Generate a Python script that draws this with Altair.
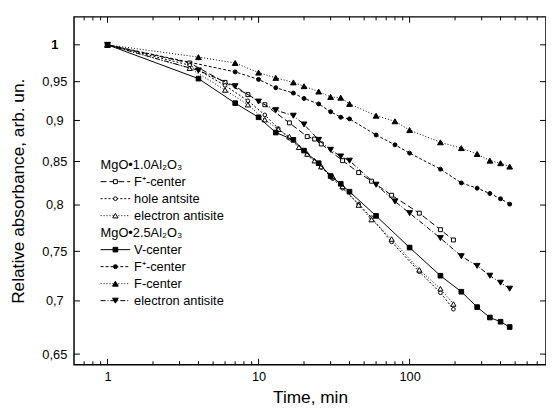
import altair as alt
import pandas as pd

# ---------------- data ----------------
# MgO*2.5Al2O3
t_f_center = [1, 4, 7, 10, 13, 17, 20, 25, 30, 35, 40, 60, 80, 100, 160, 220, 280, 340, 400, 460]
v_f_center = [1.000, 0.983, 0.975, 0.962, 0.955, 0.949, 0.944, 0.937, 0.930, 0.929, 0.921, 0.906,
              0.899, 0.888, 0.873, 0.866, 0.859, 0.851, 0.848, 0.844]

t_fplus_25 = [1, 7, 10, 13, 17, 20, 25, 30, 35, 40, 60, 80, 100, 160, 220, 280, 340, 400, 460]
v_fplus_25 = [1.000, 0.963, 0.953, 0.942, 0.935, 0.928, 0.921, 0.911, 0.904, 0.902, 0.882, 0.870,
              0.860, 0.841, 0.825, 0.819, 0.813, 0.807, 0.801]

t_eanti_25 = [1, 4, 7, 10, 13, 17, 20, 25, 30, 35, 40, 60, 80, 100, 160, 220, 280, 340, 400, 460]
v_eanti_25 = [1.000, 0.965, 0.944, 0.924, 0.913, 0.906, 0.895, 0.876, 0.864, 0.856, 0.851, 0.823,
              0.804, 0.791, 0.764, 0.745, 0.735, 0.725, 0.718, 0.712]

t_v_center = [1, 4, 7, 10, 13, 17, 20, 25, 30, 35, 40, 60, 100, 160, 220, 280, 340, 400, 460]
v_v_center = [1.000, 0.954, 0.922, 0.904, 0.885, 0.876, 0.863, 0.848, 0.833, 0.824, 0.815, 0.788,
              0.754, 0.725, 0.709, 0.694, 0.684, 0.680, 0.675]

# MgO*1.0Al2O3
t_fplus_10 = [1, 3.5, 6, 8.5, 11, 16, 21, 23.5, 26, 36, 46, 56, 76, 116, 160, 195]
v_fplus_10 = [1.000, 0.975, 0.949, 0.933, 0.920, 0.897, 0.880, 0.877, 0.871, 0.851, 0.837, 0.827,
              0.811, 0.791, 0.773, 0.762]

t_hole_10 = [1, 3.5, 6, 8.5, 11, 13.5, 16, 21, 26, 31, 36, 46, 56, 76, 116, 160, 195]
v_hole_10 = [1.000, 0.972, 0.945, 0.925, 0.907, 0.890, 0.878, 0.858, 0.843, 0.830, 0.819, 0.801,
             0.786, 0.760, 0.729, 0.708, 0.692]

t_eanti_10 = [1, 3.5, 6, 8.5, 11, 13.5, 16, 18.5, 21, 23.5, 26, 31, 36, 46, 56, 76, 116, 160, 195]
v_eanti_10 = [1.000, 0.968, 0.939, 0.920, 0.901, 0.889, 0.880, 0.867, 0.859, 0.851, 0.844, 0.832,
              0.821, 0.800, 0.784, 0.763, 0.731, 0.712, 0.697]

# axis ticks
x_major_ticks = [1, 10, 100]
x_minor_ticks = [0.7, 0.8, 0.9, 2, 3, 4, 5, 6, 7, 8, 9, 20, 30, 40, 50, 60, 70, 80, 90,
                 200, 300, 400, 500, 600, 700]
y_ticks = [0.65, 0.7, 0.75, 0.8, 0.85, 0.9, 0.95, 1.0]

group_10 = "MgO•1.0Al₂O₃"
group_25 = "MgO•2.5Al₂O₃"
labels = ["F⁺-center", "hole antsite", "electron antisite",
          "V-center", "F⁺-center", "F-center", "electron antisite"]

# ---------------- styling ----------------
W, H = 479, 353
FONT = "Liberation Sans"
xscale = alt.Scale(type="log", domain=[0.6, 800], nice=False)
yscale = alt.Scale(type="log", domain=[0.6405, 1.0397], nice=False)

x_axis = alt.Axis(values=x_major_ticks, format="~g", ticks=False, tickSize=0, domain=False, grid=False,
                  labelFont=FONT, labelFontSize=13, labelColor="black", labelPadding=6,
                  title="Time, min", titleFont=FONT, titleFontSize=17.5, titleFontWeight="normal",
                  titleColor="black", titleX=W / 2, titleY=33, titleBaseline="middle")
y_axis = alt.Axis(values=y_ticks, format=".2~f", labelExpr="replace(datum.label, '.', ',')",
                  ticks=False, tickSize=0, domain=False, grid=False,
                  labelFont=FONT, labelFontSize=13, labelColor="black", labelPadding=20,
                  labelAlign="center",
                  labelFontWeight={"condition": {"test": "datum.value == 1", "value": "bold"},
                                   "value": "normal"},
                  title="Relative absorbance, arb. un.", titleFont=FONT, titleFontSize=17.5,
                  titleFontWeight="normal", titleColor="black", titleX=-56, titleY=H / 2,
                  titleBaseline="middle", titleAngle=-90)

X = alt.X("t:Q", scale=xscale, axis=x_axis)
Y = alt.Y("v:Q", scale=yscale, axis=y_axis)

series = [
    dict(t=t_fplus_10, v=v_fplus_10, shape="square", fill="white", dash=[6, 3], size=16),
    dict(t=t_hole_10, v=v_hole_10, shape="circle", fill="white", dash=[2, 2], size=14),
    dict(t=t_eanti_10, v=v_eanti_10, shape="triangle-up", fill="white", dash=[1, 2], size=28),
    dict(t=t_v_center, v=v_v_center, shape="square", fill="black", dash=None, size=22),
    dict(t=t_fplus_25, v=v_fplus_25, shape="circle", fill="black", dash=[3, 2], size=16),
    dict(t=t_f_center, v=v_f_center, shape="triangle-up", fill="black", dash=[1, 2], size=34),
    dict(t=t_eanti_25, v=v_eanti_25, shape="triangle-down", fill="black", dash=[5, 2, 1, 2], size=34),
]

layers = []
for s in series:
    df = pd.DataFrame({"t": s["t"], "v": s["v"]})
    line_kw = dict(color="black", strokeWidth=1)
    if s["dash"]:
        line_kw["strokeDash"] = s["dash"]
    layers.append(alt.Chart(df).mark_line(**line_kw).encode(x=X, y=Y))
    layers.append(alt.Chart(df).mark_point(shape=s["shape"], filled=True, fill=s["fill"],
                                           stroke="black", strokeWidth=1, opacity=1,
                                           size=s["size"]).encode(x=X, y=Y))

# inward ticks on all four sides
xmaj = pd.DataFrame({"t": x_major_ticks})
xmin = pd.DataFrame({"t": x_minor_ticks})
yt = pd.DataFrame({"v": y_ticks})
for d, ln in ((xmaj, 6), (xmin, 3.5)):
    layers.append(alt.Chart(d).mark_rule(color="black", strokeWidth=1).encode(
        x=X, y=alt.value(H), y2=alt.value(H - ln)))
    layers.append(alt.Chart(d).mark_rule(color="black", strokeWidth=1).encode(
        x=X, y=alt.value(0), y2=alt.value(ln)))
layers.append(alt.Chart(yt).mark_rule(color="black", strokeWidth=1).encode(
    y=Y, x=alt.value(0), x2=alt.value(6)))
layers.append(alt.Chart(yt).mark_rule(color="black", strokeWidth=1).encode(
    y=Y, x=alt.value(W), x2=alt.value(W - 6)))

# custom legend
one = pd.DataFrame({"k": [0]})
LX0, LX1, LXM, LTX = 27, 57, 42, 61
step = 17.25
ypos = [150 + step * i for i in range(9)]
rows = [("h", group_10)] + [("s", i) for i in range(3)] + [("h", group_25)] + [("s", i) for i in range(3, 7)]
for (kind, item), py in zip(rows, ypos):
    if kind == "h":
        layers.append(alt.Chart(one).mark_text(font=FONT, fontSize=13, align="left", baseline="middle",
                                               color="black").encode(
            x=alt.value(LX0), y=alt.value(py), text=alt.value(item)))
    else:
        s = series[item]
        rk = dict(color="black", strokeWidth=1)
        if s["dash"]:
            rk["strokeDash"] = s["dash"]
        layers.append(alt.Chart(one).mark_rule(**rk).encode(
            x=alt.value(LX0), x2=alt.value(LX1), y=alt.value(py)))
        layers.append(alt.Chart(one).mark_point(shape=s["shape"], filled=True, fill=s["fill"],
                                                stroke="black", strokeWidth=1, opacity=1,
                                                size=s["size"]).encode(
            x=alt.value(LXM), y=alt.value(py)))
        layers.append(alt.Chart(one).mark_text(font=FONT, fontSize=13, align="left", baseline="middle",
                                               color="black").encode(
            x=alt.value(LTX), y=alt.value(py), text=alt.value(labels[item])))

chart = alt.layer(*layers).properties(
    width=W, height=H,
    autosize=alt.AutoSizeParams(type="none"),
    padding={"left": 67, "top": 6, "right": 0, "bottom": 44},
    background="white",
).configure_view(stroke="black", strokeWidth=1.5).configure_axis(titleFontWeight="normal")

chart.save("out.html", embed_options={"renderer": "svg", "actions": False})
